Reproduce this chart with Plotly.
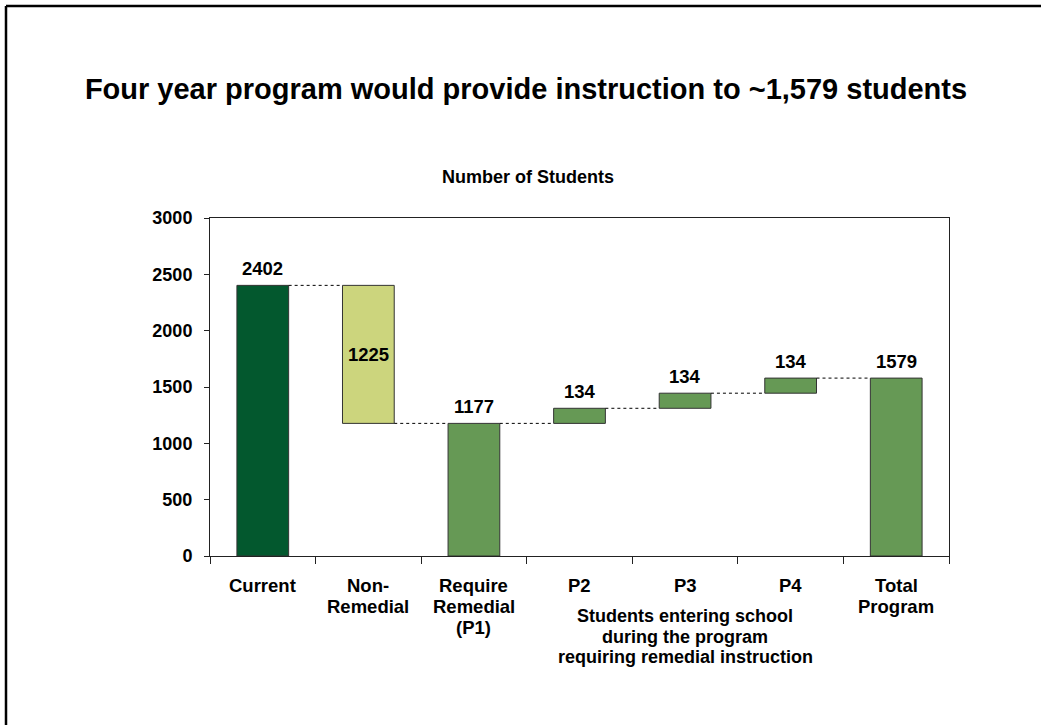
import plotly.graph_objects as go

# ---- data ----
categories = ["Current", "Non-<br>Remedial", "Require<br>Remedial<br>(P1)", "P2", "P3", "P4", "Total<br>Program"]
values = [2402, 1225, 1177, 134, 134, 134, 1579]
measures = ["total", "decrease", "total", "increase", "increase", "increase", "total"]
bar_colors = ["#03582E", "#CCD57D", "#669955", "#669955", "#669955", "#669955", "#669955"]
y_ticks = [0, 500, 1000, 1500, 2000, 2500, 3000]
group_label = "Students entering school<br>during the program<br>requiring remedial instruction"

# ---- floating bar geometry (waterfall logic) ----
bases, tops, levels = [], [], []
running = 0
for v, m in zip(values, measures):
    if m == "total":
        base, top = 0, v
        running = v
    elif m == "increase":
        base, top = running, running + v
        running = top
    else:
        base, top = running - v, running
        running = base
    bases.append(base)
    tops.append(top)
    levels.append(running)

FONT = "Liberation Sans, Arial, sans-serif"
W, H = 1041, 725
ML, MR, MT, MB = 210, 92, 218, 169
PW, PH = W - ML - MR, H - MT - MB
BAR_W = 0.49
LINE_STEP = 21  # pixel spacing between label lines


def px_x(px):
    return (px - ML) / PW


def px_y(py):
    return (H - MB - py) / PH


def bold(size):
    return dict(size=size, family=FONT, color="black", weight="bold")


fig = go.Figure()
fig.add_trace(go.Bar(
    x=categories,
    y=[t - b for t, b in zip(tops, bases)],
    base=bases,
    width=[BAR_W] * len(values),
    marker=dict(color=bar_colors, line=dict(color="#333333", width=1)),
    hoverinfo="skip",
))

annotations = []
# value labels
for i, (v, m) in enumerate(zip(values, measures)):
    if m == "decrease":
        annotations.append(dict(x=categories[i], y=(bases[i] + tops[i]) / 2, text=str(v),
                                showarrow=False, yanchor="middle", font=bold(18.5)))
    else:
        annotations.append(dict(x=categories[i], y=tops[i], text=str(v), showarrow=False,
                                yanchor="middle", yshift=17, font=bold(18.5)))

# category labels, one line at a time for tight line spacing
for cat in categories:
    for j, line in enumerate(cat.split("<br>")):
        annotations.append(dict(x=cat, y=px_y(585 + j * LINE_STEP), yref="paper",
                                yanchor="middle", text=line, showarrow=False,
                                font=bold(18.5)))

# group label beneath P2-P4
for j, line in enumerate(group_label.split("<br>")):
    annotations.append(dict(x=categories[4], y=px_y(616 + j * 20.5), yref="paper",
                            yanchor="middle", text=line, showarrow=False, font=bold(18)))

annotations.append(dict(x=px_x(528), y=px_y(177), xref="paper", yref="paper",
                        text="Number of Students", showarrow=False, yanchor="middle",
                        font=bold(18)))

shapes = []
# dashed connectors between consecutive bars
for i in range(len(values) - 1):
    shapes.append(dict(type="line", xref="x", yref="y",
                       x0=i + BAR_W / 2, x1=i + 1 - BAR_W / 2,
                       y0=levels[i], y1=levels[i],
                       line=dict(color="black", width=1, dash="3px,3px")))
# slide frame (top and left edges)
shapes.append(dict(type="line", xref="paper", yref="paper",
                   x0=px_x(6), x1=px_x(W + 5), y0=px_y(6), y1=px_y(6),
                   line=dict(color="black", width=2.5)))
shapes.append(dict(type="line", xref="paper", yref="paper",
                   x0=px_x(6), x1=px_x(6), y0=px_y(6), y1=px_y(H + 5),
                   line=dict(color="black", width=2.5)))

fig.update_layout(
    width=W, height=H,
    margin=dict(l=ML, r=MR, t=MT, b=MB),
    paper_bgcolor="white", plot_bgcolor="white",
    showlegend=False,
    title=dict(text="Four year program would provide instruction to ~1,579 students",
               x=526 / W, xanchor="center", y=1 - 89 / H, yanchor="middle",
               font=bold(29)),
    annotations=annotations,
    shapes=shapes,
    xaxis=dict(type="category", tickson="boundaries", ticks="outside", ticklen=7,
               tickcolor="#222222", showline=True, linecolor="#222222", linewidth=1,
               mirror=True, showgrid=False, zeroline=False, showticklabels=False),
    yaxis=dict(range=[0, 3000], tickvals=y_ticks, ticks="outside", ticklen=5,
               tickcolor="#222222", showline=True, linecolor="#222222", linewidth=1,
               mirror=True, showgrid=False, zeroline=False,
               tickfont=bold(18), ticklabelstandoff=8),
    bargap=0.5,
)

fig.write_html("out.html")
